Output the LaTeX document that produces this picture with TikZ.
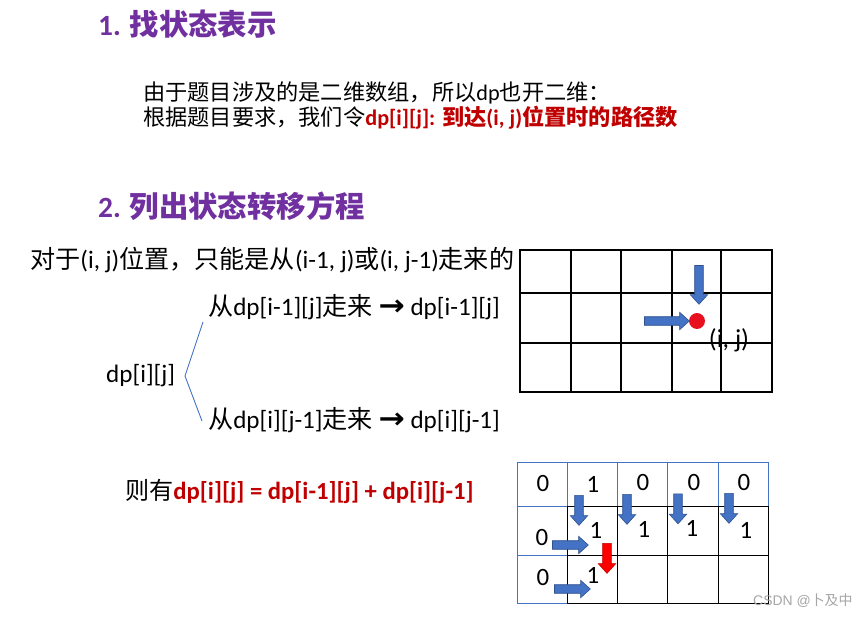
\documentclass[tikz,border=0pt]{standalone}
\usepackage{fontspec}
\setmainfont{Carlito}
\newfontfamily\cjk{Noto Sans CJK SC}
\newfontfamily\arrowfont{DejaVu Sans}
\newfontfamily\wmfont{Liberation Sans}
\usetikzlibrary{shapes.arrows}
\definecolor{headpurple}{HTML}{7030A0}
\definecolor{keyred}{HTML}{C00000}
\definecolor{arrowblue}{HTML}{4472C4}
\definecolor{arrowedge}{HTML}{2F528F}
\definecolor{dotred}{HTML}{E8101E}
\definecolor{gridblue}{HTML}{4472C4}
\definecolor{wmgray}{HTML}{A6A6A6}
\newcommand\zh[1]{{\cjk #1}}
\newcommand\bigarrow{{\arrowfont\bfseries\scalebox{1.25}[1.15]{→}}}
\tikzset{
  heading/.style={inner sep=0, anchor=west, text=headpurple, font=\fontsize{29.5}{33}\selectfont\bfseries},
  bodytext/.style={inner sep=0, anchor=west, font=\fontsize{22.3}{26}\selectfont},
  bigtext/.style={inner sep=0, anchor=west, font=\fontsize{25.2}{29}\selectfont},
  midtext/.style={inner sep=0, anchor=west, font=\fontsize{24.2}{28}\selectfont},
  numtext/.style={inner sep=0, font=\fontsize{25}{28}\selectfont},
  bracestyle/.style={draw=gridblue, line width=0.9bp},
  thickgrid/.style={draw=black, line width=2bp},
  thingrid/.style={draw=black, line width=1bp},
  bluegrid/.style={draw=gridblue, line width=1bp},
  blockarrow/.style={single arrow, draw=arrowedge, fill=arrowblue, line width=0.6bp,
    inner xsep=0, inner ysep=4, minimum width=0, single arrow head extend=4.5,
    single arrow tip angle=84, minimum height=#1},
  redarrow/.style={blockarrow=#1, fill=red, draw=keyred},
}
\begin{document}
\begin{tikzpicture}[x=1bp,y=-1bp]
\useasboundingbox (0,0) rectangle (866,617);
\fill[white] (0,0) rectangle (866,617);

% headings and text
\node[heading] (h1) at (98,24) {1. \zh{找状态表示}};
\node[bodytext] (l1) at (143,93) {\zh{由于题目涉及的是二维数组，所以}dp\zh{也开二维：}};
\node[bodytext] (l2) at (143,118) {\zh{根据题目要求，我们令}\textcolor{keyred}{\bfseries dp[i][j]: \zh{到达}(i, j)\zh{位置时的路径数}}};
\node[heading] (h2) at (98,206) {2. \zh{列出状态转移方程}};
\node[bigtext] (l3) at (30,260) {\zh{对于}(i, j)\zh{位置，只能是从}(i-1, j)\zh{或}(i, j-1)\zh{走来的}};
\node[bigtext] (up) at (208,307) {\zh{从}dp[i-1][j]\zh{走来} \bigarrow{} dp[i-1][j]};
\node[bigtext] (dpij) at (106,376) {dp[i][j]};
\node[bigtext] (lf) at (208,420) {\zh{从}dp[i][j-1]\zh{走来} \bigarrow{} dp[i][j-1]};
\coordinate (b1) at (203,322);
\coordinate (b2) at (185,376);
\coordinate (b3) at (202,421);
\draw[bracestyle] (b1) -- (b2) -- (b3);
\node[midtext] (eq) at (125,491) {\zh{则有}\textcolor{keyred}{\fontsize{24.8}{28}\selectfont\bfseries dp[i][j] = dp[i-1][j] + dp[i][j-1]}};

% top grid
\draw[thickgrid] (520,250) rectangle (772,392);
\foreach \gx in {571,621,672,721} \draw[thickgrid] (\gx,250) -- (\gx,392);
\foreach \gy in {293,343} \draw[thickgrid] (520,\gy) -- (772,\gy);
\node[blockarrow=39, rotate=-90] (ta1) at (699,282.5) {};
\node[blockarrow=45] (ta2) at (664.5,321) {};
\node[circle, fill=dotred, minimum size=16, inner sep=0] (dot) at (697,321) {};
\node[inner sep=0, font=\fontsize{26}{30}\selectfont] (ijl) at (729,340) {(i, j)};

% bottom grid
\draw[bluegrid] (517,462) rectangle (768,506);
\foreach \gx in {567,617,667,718} \draw[bluegrid] (\gx,462) -- (\gx,506);
\draw[bluegrid] (517,506) rectangle (567,603);
\draw[bluegrid] (517,555) -- (567,555);
\draw[thingrid] (567,506) -- (768,506) -- (768,603) -- (567,603) -- cycle;
\draw[thingrid] (567,555) -- (768,555);
\foreach \gx in {617,667,718} \draw[thingrid] (\gx,506) -- (\gx,603);

\node[numtext] (n11) at (543,484) {0};
\node[numtext] (n12) at (593,484) {1};
\node[numtext] (n13) at (643,483) {0};
\node[numtext] (n14) at (694,483) {0};
\node[numtext] (n15) at (744,483) {0};
\node[numtext] (n21) at (542,537) {0};
\node[numtext] (n22) at (596,530) {1};
\node[numtext] (n23) at (644,529) {1};
\node[numtext] (n24) at (692,528) {1};
\node[numtext] (n25) at (746,530) {1};
\node[numtext] (n31) at (543,577) {0};
\node[numtext] (n32) at (593,575) {1};

\node[blockarrow=30, rotate=-90] (ba1) at (579,508) {};
\node[blockarrow=30, rotate=-90] (ba2) at (627,507) {};
\node[blockarrow=30, rotate=-90] (ba3) at (678,506.5) {};
\node[blockarrow=30, rotate=-90] (ba4) at (729,506) {};
\node[blockarrow=36] (ra1) at (568,545) {};
\node[blockarrow=36] (ra2) at (570,589) {};
\node[redarrow=30, rotate=-90] (rd) at (607,556) {};

\node[inner sep=0, anchor=west, text=wmgray, font=\wmfont\fontsize{14}{16}\selectfont] (wm) at (753,601) {CSDN @\zh{卜及中}};
\end{tikzpicture}
\end{document}
